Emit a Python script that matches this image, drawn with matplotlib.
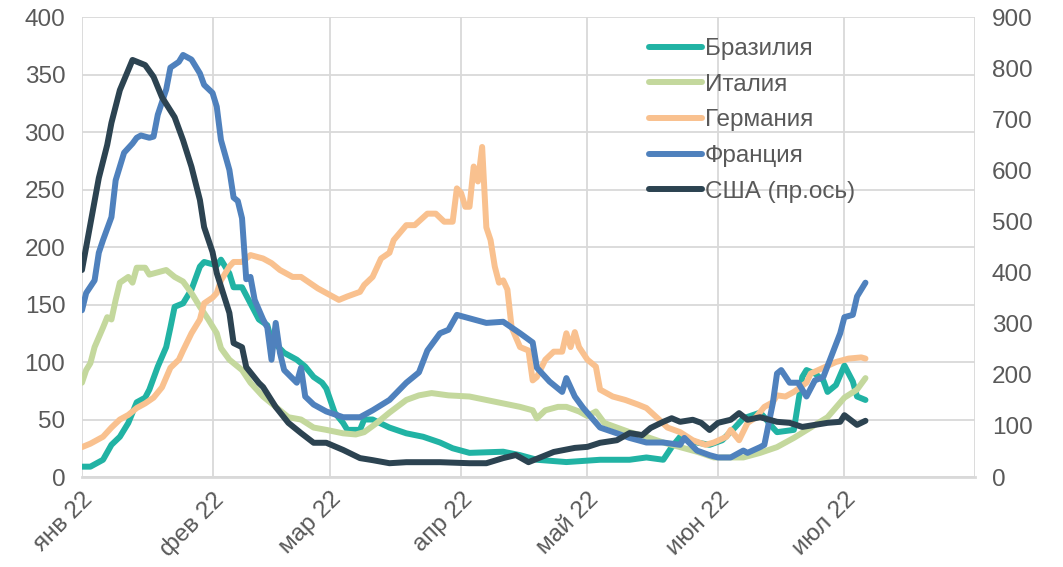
import matplotlib
matplotlib.use("Agg")
import matplotlib.pyplot as plt
import pandas as pd

plt.rcParams['font.family'] = ['Liberation Sans', 'DejaVu Sans']

start = pd.Timestamp("2022-01-01")

# дни от 1 января и значения
bra_days = [0, 2, 5, 7, 9, 11, 13, 15, 16, 18, 20, 21, 22, 24, 25, 26, 28, 29, 32, 33, 35, 36, 38, 40, 42, 44, 45, 48,
            51, 53, 55, 57, 58, 60, 62, 63, 66, 67, 69, 73, 77, 81, 85, 88, 92, 100, 104, 108, 115, 123, 130, 134, 138,
            140, 142, 146, 149, 152, 155, 157, 161, 162, 164, 165, 169, 171, 172, 174, 176, 177, 179, 181, 183, 184, 186]
bra_vals = [9, 9, 15, 28, 35, 47, 65, 69, 76, 96, 113, 130, 148, 151, 157, 163, 183, 187, 184, 189, 177, 165, 165, 151,
            137, 132, 119, 108, 102, 96, 87, 82, 77, 56, 47, 41, 41, 50, 50, 43, 38, 35, 30, 25, 21, 22, 19, 15, 13, 15,
            15, 17, 15, 26, 35, 30, 28, 32, 43, 51, 56, 52, 43, 39, 41, 87, 93, 90, 84, 74, 80, 97, 83, 70, 67]

ita_days = [0, 1, 2, 3, 5, 6, 7, 8, 9, 11, 12, 13, 15, 16, 20, 22, 24, 26, 28, 30, 32, 33, 35, 38, 40, 43, 46, 49, 52,
            55, 58, 62, 65, 67, 70, 73, 77, 80, 83, 87, 92, 96, 100, 104, 107, 108, 110, 113, 115, 118, 120, 122, 124,
            127, 130, 134, 138, 142, 146, 150, 154, 157, 161, 165, 169, 173, 177, 181, 184, 186]
ita_vals = [82, 93, 99, 113, 130, 139, 137, 154, 169, 174, 169, 182, 182, 176, 180, 174, 170, 160, 148, 137, 125, 112,
            102, 93, 82, 70, 61, 52, 50, 43, 41, 38, 37, 39, 47, 56, 67, 71, 73, 71, 70, 67, 64, 61, 58, 51, 58, 61, 61,
            57, 53, 57, 47, 43, 39, 35, 30, 26, 22, 17, 17, 17, 21, 26, 34, 43, 52, 69, 76, 86]

ger_days = [0, 2, 5, 7, 9, 11, 13, 15, 17, 19, 21, 23, 24, 26, 28, 29, 31, 32, 33, 35, 36, 38, 40, 43, 45, 47, 50, 52,
            54, 56, 58, 61, 63, 66, 67, 69, 71, 73, 74, 77, 79, 82, 84, 86, 88, 89, 90, 91, 92, 93, 94, 95, 96, 97, 98,
            99, 100, 101, 102, 104, 106, 107, 108, 110, 112, 114, 115, 116, 117, 118, 120, 122, 123, 126, 129, 132, 134,
            137, 139, 142, 145, 148, 150, 153, 154, 156, 158, 160, 162, 164, 165, 167, 169, 172, 173, 176, 179, 182, 185,
            186]
ger_vals = [26, 29, 35, 43, 50, 54, 60, 64, 69, 78, 95, 102, 110, 125, 137, 151, 156, 160, 171, 183, 187, 187, 193, 190,
            186, 180, 174, 174, 169, 164, 160, 154, 157, 161, 167, 174, 190, 195, 206, 219, 219, 229, 229, 222, 222, 251,
            247, 235, 235, 270, 257, 287, 217, 206, 183, 169, 171, 163, 130, 113, 110, 84, 87, 102, 109, 109, 125, 113,
            126, 113, 102, 96, 76, 70, 67, 63, 60, 50, 43, 39, 32, 28, 30, 35, 41, 32, 47, 52, 61, 65, 71, 70, 74, 82,
            90, 95, 100, 103, 104, 103]

fra_days = [0, 1, 3, 4, 5, 7, 8, 9, 10, 12, 13, 14, 16, 17, 18, 20, 21, 23, 24, 26, 28, 29, 31, 32, 33, 35, 36, 37, 38,
            39, 40, 41, 43, 44, 45, 46, 47, 48, 51, 52, 53, 55, 58, 62, 66, 69, 73, 77, 80, 82, 85, 87, 89, 92, 96, 100,
            102, 104, 107, 108, 111, 114, 115, 117, 119, 123, 127, 130, 134, 138, 142, 143, 146, 149, 151, 154, 157, 158,
            161, 162, 164, 165, 166, 168, 170, 172, 174, 176, 180, 181, 183, 184, 186]
fra_vals = [145, 160, 171, 195, 206, 226, 258, 270, 282, 290, 295, 297, 295, 296, 315, 337, 356, 361, 367, 363, 351, 341,
            334, 322, 293, 267, 243, 240, 225, 172, 174, 154, 137, 130, 102, 134, 108, 93, 82, 95, 70, 63, 57, 52, 52, 58,
            67, 82, 91, 110, 125, 128, 141, 138, 134, 135, 130, 125, 117, 95, 83, 74, 86, 70, 60, 43, 38, 34, 30, 30, 28,
            34, 23, 19, 17, 17, 23, 21, 26, 28, 64, 90, 93, 82, 82, 70, 84, 87, 125, 139, 141, 157, 169]

usa_days = [0, 2, 4, 6, 7, 9, 12, 15, 17, 19, 22, 24, 26, 28, 29, 31, 32, 35, 36, 38, 39, 42, 43, 46, 49, 52, 55, 58,
            62, 66, 69, 73, 77, 85, 92, 96, 100, 103, 106, 109, 112, 117, 120, 123, 127, 130, 133, 135, 138, 140, 142,
            145, 147, 149, 151, 154, 156, 158, 161, 165, 168, 171, 174, 177, 180, 181, 184, 186]
usa_vals = [405, 495, 585, 650, 693, 757, 816, 806, 783, 743, 704, 659, 607, 542, 489, 440, 399, 321, 262, 254, 215,
            184, 176, 137, 106, 86, 67, 67, 53, 37, 33, 27, 29, 29, 27, 27, 37, 43, 29, 39, 49, 57, 59, 67, 72, 86, 82,
            96, 108, 115, 108, 112, 106, 92, 106, 112, 125, 112, 117, 108, 106, 98, 102, 106, 108, 121, 102, 110]

month_labels = ["янв 22", "фев 22", "мар 22", "апр 22", "май 22", "июн 22", "июл 22", ""]


def to_dates(days):
    return start + pd.to_timedelta(days, unit="D")


grid_col = "#d9d9d9"
text_col = "#595959"
lw = 4.3

fig = plt.figure(figsize=(10.63, 5.67), dpi=100)
ax = fig.add_axes([0.0771, 0.1587, 0.8401, 0.8113])
ax2 = ax.twinx()

left_series = [
    ("Бразилия", bra_days, bra_vals, "#21b3a4"),
    ("Италия", ita_days, ita_vals, "#c4d89d"),
    ("Германия", ger_days, ger_vals, "#f9c18f"),
    ("Франция", fra_days, fra_vals, "#4f81bd"),
]
handles = []
for name, d, v, c in left_series:
    h, = ax.plot(to_dates(d), v, color=c, lw=lw, label=name,
                 solid_capstyle="round", solid_joinstyle="round")
    handles.append(h)

h, = ax2.plot(to_dates(usa_days), usa_vals, color="#2c4351", lw=lw, label="США (пр.ось)",
              solid_capstyle="round", solid_joinstyle="round")
handles.append(h)

ticks = pd.date_range("2022-01-01", "2022-08-01", freq="MS")
ax.set_xlim(ticks[0], ticks[-1])
ax.set_xticks(ticks)
ax.set_xticklabels(month_labels, rotation=45, ha="right", rotation_mode="anchor")

ax.set_ylim(0, 400)
ax.set_yticks(range(0, 401, 50))
ax2.set_ylim(0, 900)
ax2.set_yticks(range(0, 901, 100))

ax.grid(True, color=grid_col, lw=1.3)
ax.set_axisbelow(True)
for a in (ax, ax2):
    for s in a.spines.values():
        s.set_visible(False)
    a.tick_params(length=0, labelsize=17.5, labelcolor=text_col)
ax.spines["bottom"].set_visible(True)
ax.spines["bottom"].set_color(grid_col)
ax.spines["bottom"].set_linewidth(2)
ax.tick_params(axis="x", pad=8)
ax.tick_params(axis="y", pad=12)
ax2.tick_params(axis="y", pad=12)

leg = ax2.legend(handles=handles, loc="upper left", bbox_to_anchor=(0.624, 0.975), frameon=False,
                 fontsize=17.5, handlelength=2.2, handletextpad=0.1, labelspacing=0.56,
                 borderaxespad=0)
for t in leg.get_texts():
    t.set_color(text_col)

fig.savefig("out.png", dpi=100)
